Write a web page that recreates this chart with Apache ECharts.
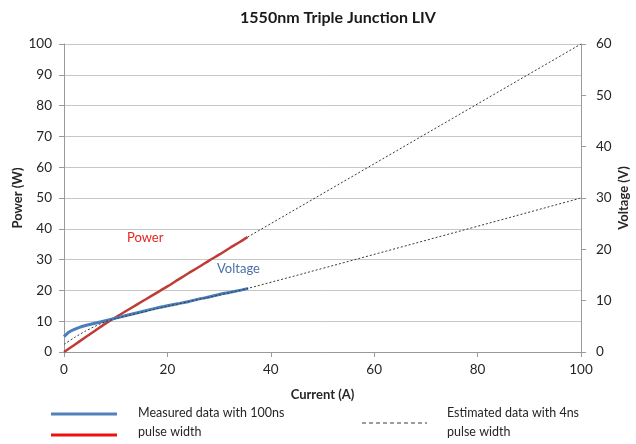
<!DOCTYPE html>
<html>
<head>
<meta charset="utf-8">
<script src="https://cdn.jsdelivr.net/npm/echarts@6/dist/echarts.min.js"></script>
<style>html,body{margin:0;padding:0;background:#fff}#c{width:636px;height:444px}</style>
</head>
<body>
<div id="c"></div>
<script>
// Measured power (W) vs current (A)
const powerCurrent = [0, 2, 4, 6, 8, 10, 12, 14, 16, 18, 20, 22, 24, 26, 28, 30, 32, 34, 35.5];
const powerValues  = [0, 2.3, 4.6, 6.9, 9.2, 11.3, 13.3, 15.3, 17.3, 19.3, 21.3, 23.4, 25.5, 27.5, 29.6, 31.6, 33.7, 35.7, 37.3];
// Measured voltage (V) vs current (A)
const voltCurrent = [0, 0.5, 1, 2, 3, 4, 6, 8, 10, 12, 14, 16, 18, 20, 22, 24, 26, 28, 30, 32, 34, 35.6];
const voltValues  = [3.0, 3.5, 3.9, 4.4, 4.8, 5.1, 5.6, 6.1, 6.6, 7.1, 7.6, 8.1, 8.6, 9.0, 9.4, 9.8, 10.3, 10.7, 11.2, 11.6, 12.0, 12.4];
// Estimated (4ns) data
const estVoltCurrent = [0, 2, 4, 6, 8, 10, 20, 35.6, 100];
const estVoltValues  = [1.5, 2.8, 4.0, 5.0, 5.9, 6.5, 8.9, 12.4, 30];
const estPowerCurrent = [35.5, 100];
const estPowerValues  = [37.3, 100];
// Axis ticks
const xTicks = {min: 0, max: 100, interval: 20};
const powerTicks = {min: 0, max: 100, interval: 10};
const voltTicks = {min: 0, max: 60, interval: 10};

const zip = (a, b) => a.map((v, i) => [v, b[i]]);
const FONT = 'Lato, "Liberation Sans", sans-serif';
const txt = '#262626';

const chart = echarts.init(document.getElementById('c'), null, {renderer: 'canvas'});
chart.setOption({
  animation: false,
  backgroundColor: '#fff',
  textStyle: {fontFamily: FONT},
  title: {
    text: '1550nm Triple Junction LIV',
    left: 333, top: 5, textAlign: 'center',
    textStyle: {fontFamily: FONT, fontSize: 16, fontWeight: 'bold', color: '#1a1a1a'}
  },
  grid: {left: 64, right: 55, top: 44, bottom: 92, containLabel: false, outerBoundsMode: 'none'},
  xAxis: {
    type: 'value', min: xTicks.min, max: xTicks.max, interval: xTicks.interval,
    name: 'Current (A)', nameLocation: 'middle', nameGap: 36, nameMoveOverlap: false,
    nameTextStyle: {fontFamily: FONT, fontSize: 13, fontWeight: 'bold', color: txt},
    axisLine: {show: true, lineStyle: {color: '#9a9a9a'}},
    axisTick: {show: true, length: 5, lineStyle: {color: '#9a9a9a'}},
    axisLabel: {fontFamily: FONT, fontSize: 13.5, color: txt, margin: 11},
    splitLine: {show: false}
  },
  yAxis: [{
    type: 'value', position: 'left', min: powerTicks.min, max: powerTicks.max, interval: powerTicks.interval,
    name: 'Power (W)', nameLocation: 'middle', nameGap: 40, nameRotate: 90, nameMoveOverlap: false,
    nameTextStyle: {fontFamily: FONT, fontSize: 13, fontWeight: 'bold', color: txt},
    axisLine: {show: true, lineStyle: {color: '#9a9a9a'}},
    axisTick: {show: true, length: 5, lineStyle: {color: '#9a9a9a'}},
    axisLabel: {fontFamily: FONT, fontSize: 13.5, color: txt, margin: 12},
    splitLine: {show: true, lineStyle: {color: '#c6c6c6', width: 1}}
  }, {
    type: 'value', position: 'right', min: voltTicks.min, max: voltTicks.max, interval: voltTicks.interval,
    name: 'Voltage (V)', nameLocation: 'middle', nameGap: 36, nameRotate: 90, nameMoveOverlap: false,
    nameTextStyle: {fontFamily: FONT, fontSize: 13, fontWeight: 'bold', color: txt},
    axisLine: {show: true, lineStyle: {color: '#9a9a9a'}},
    axisTick: {show: true, length: 5, lineStyle: {color: '#9a9a9a'}},
    axisLabel: {fontFamily: FONT, fontSize: 13.5, color: txt, margin: 15},
    splitLine: {show: false}
  }],
  series: [{
    name: 'Power', type: 'line', yAxisIndex: 0, showSymbol: false, symbol: 'none', smooth: 0.3,
    data: zip(powerCurrent, powerValues),
    lineStyle: {color: '#be3b36', width: 2.5}, z: 3
  }, {
    name: 'Voltage', type: 'line', yAxisIndex: 1, showSymbol: false, symbol: 'none', smooth: 0.3,
    data: zip(voltCurrent, voltValues),
    lineStyle: {color: '#4a7ebb', width: 3}, z: 3
  }, {
    name: 'Estimated Voltage', type: 'line', yAxisIndex: 1, showSymbol: false, symbol: 'none', smooth: 0.2,
    data: zip(estVoltCurrent, estVoltValues),
    lineStyle: {color: '#3a3a3a', width: 1, type: [2, 2]}, z: 4
  }, {
    name: 'Estimated Power', type: 'line', yAxisIndex: 0, showSymbol: false, symbol: 'none',
    data: zip(estPowerCurrent, estPowerValues),
    lineStyle: {color: '#3a3a3a', width: 1, type: [2, 2]}, z: 4
  }],
  graphic: [
    {type: 'text', left: 127, top: 231, style: {text: 'Power', fill: '#e8251f', font: '13px ' + FONT}},
    {type: 'text', left: 217, top: 262, style: {text: 'Voltage', fill: '#4a6fa8', font: '13px ' + FONT}},
    {type: 'line', shape: {x1: 51, y1: 414, x2: 117, y2: 414}, style: {stroke: '#4f81bd', lineWidth: 3}},
    {type: 'line', shape: {x1: 51, y1: 435, x2: 117, y2: 435}, style: {stroke: '#ee1111', lineWidth: 3}},
    {type: 'text', left: 138, top: 406, style: {text: 'Measured data with 100ns', fill: txt, font: '12.5px ' + FONT}},
    {type: 'text', left: 138, top: 425, style: {text: 'pulse width', fill: txt, font: '12.5px ' + FONT}},
    {type: 'line', shape: {x1: 362, y1: 423, x2: 427, y2: 423}, style: {stroke: '#3a3a3a', lineWidth: 1, lineDash: [4, 3]}},
    {type: 'text', left: 447, top: 406, style: {text: 'Estimated data with 4ns', fill: txt, font: '12.5px ' + FONT}},
    {type: 'text', left: 447, top: 425, style: {text: 'pulse width', fill: txt, font: '12.5px ' + FONT}}
  ]
});
</script>
</body>
</html>
